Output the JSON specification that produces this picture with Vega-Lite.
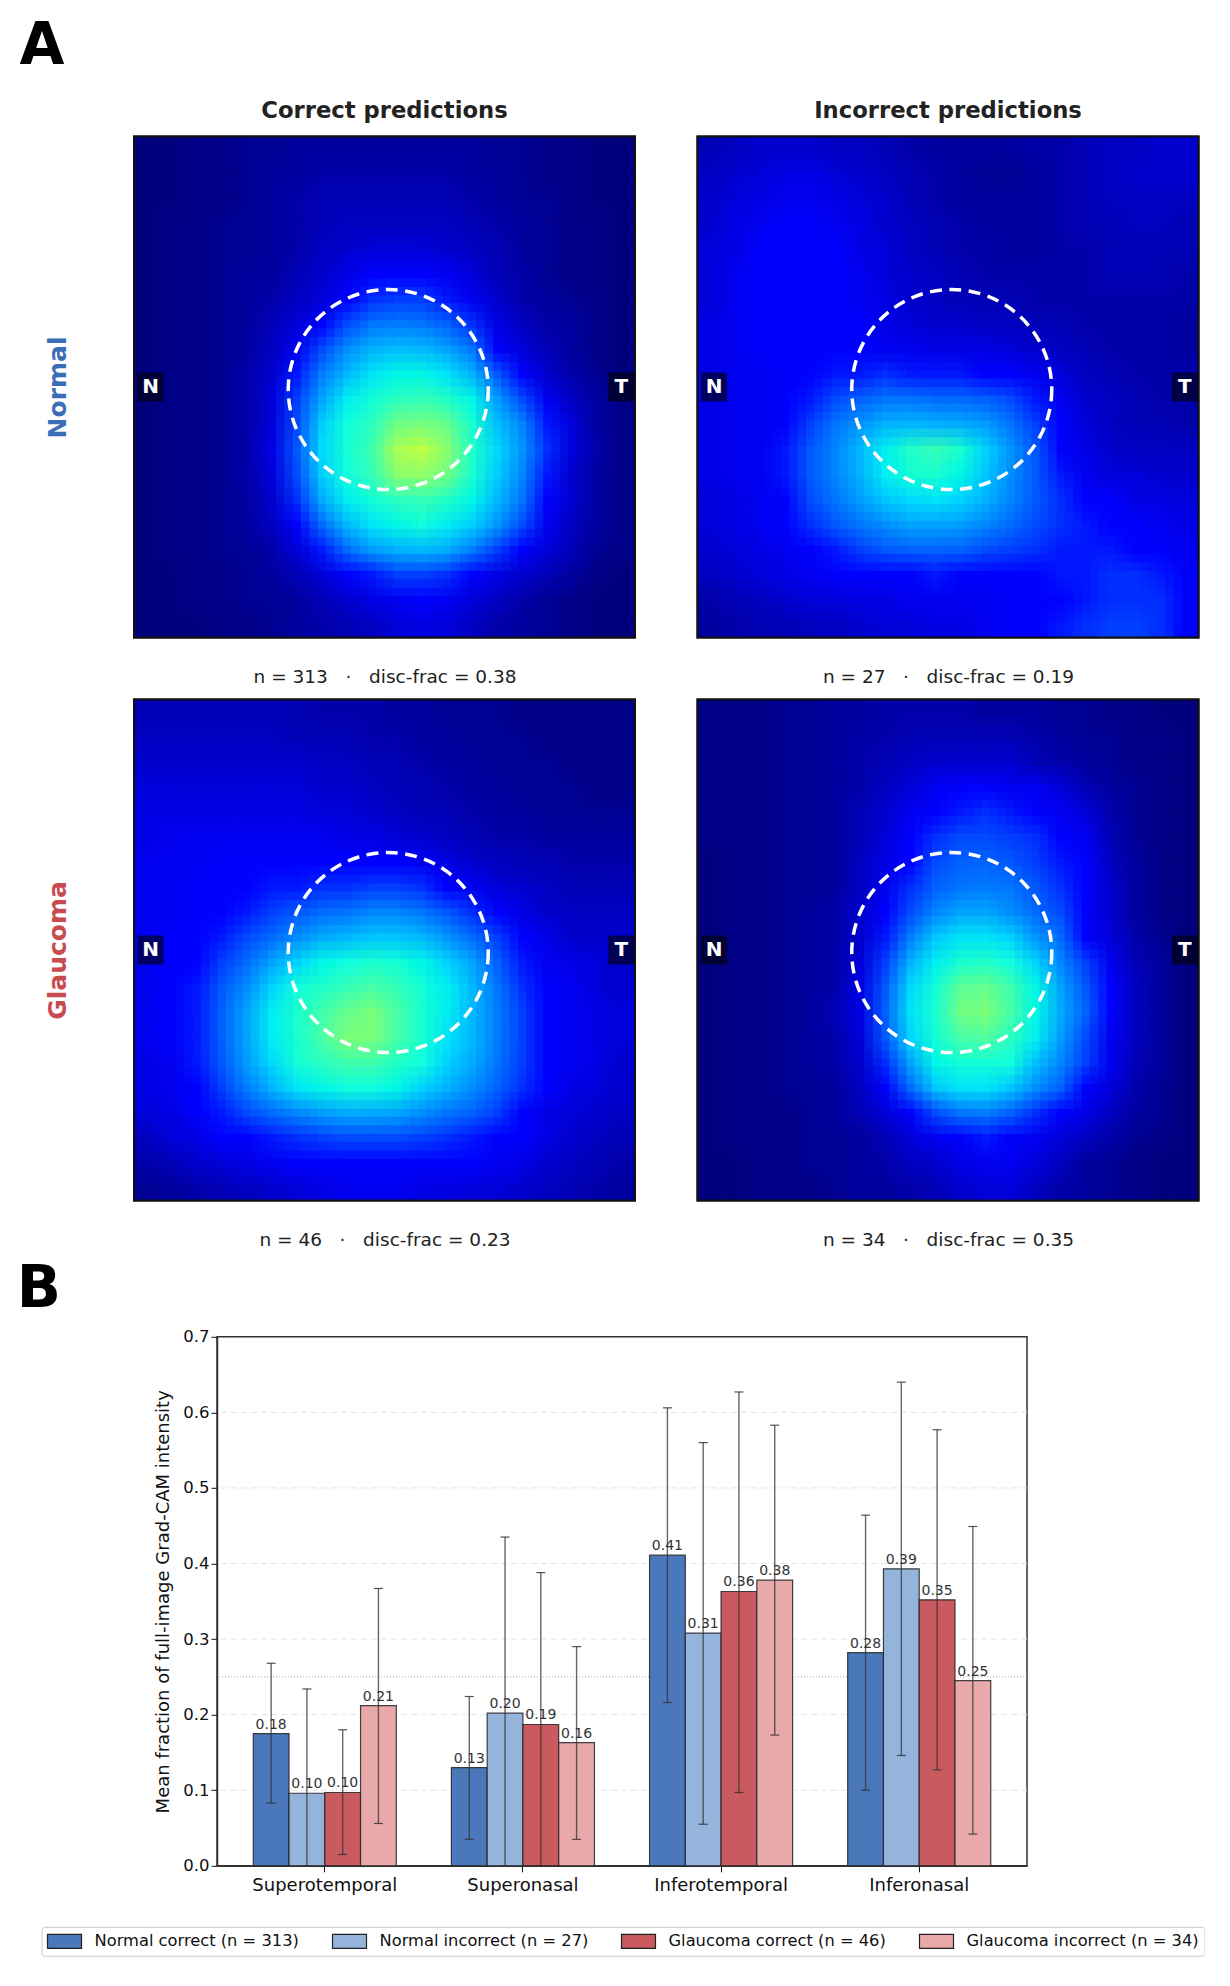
{
"$schema":"https://vega.github.io/schema/vega-lite/v6.json",
"background":"white",
"padding":{"left":16,"top":16.5,"right":0,"bottom":0},
"spacing":9.3,
"config":{"font":"DejaVu Sans","view":{"stroke":"#111","strokeWidth":2}},
"datasets":{
"p1":[
{"x":0,"y":0,"v":0},{"x":1,"y":0,"v":0},{"x":2,"y":0,"v":1},{"x":3,"y":0,"v":1},{"x":4,"y":0,"v":2},{"x":5,"y":0,"v":2},{"x":6,"y":0,"v":3},{"x":7,"y":0,"v":3},{"x":8,"y":0,"v":3},{"x":9,"y":0,"v":3},{"x":10,"y":0,"v":3},{"x":11,"y":0,"v":3},{"x":12,"y":0,"v":3},{"x":13,"y":0,"v":3},{"x":14,"y":0,"v":2},{"x":15,"y":0,"v":2},{"x":16,"y":0,"v":1},{"x":17,"y":0,"v":1},{"x":18,"y":0,"v":0},{"x":19,"y":0,"v":0},
{"x":0,"y":1,"v":0},{"x":1,"y":1,"v":0},{"x":2,"y":1,"v":1},{"x":3,"y":1,"v":1},{"x":4,"y":1,"v":2},{"x":5,"y":1,"v":3},{"x":6,"y":1,"v":3},{"x":7,"y":1,"v":4},{"x":8,"y":1,"v":4},{"x":9,"y":1,"v":4},{"x":10,"y":1,"v":4},{"x":11,"y":1,"v":4},{"x":12,"y":1,"v":4},{"x":13,"y":1,"v":3},{"x":14,"y":1,"v":3},{"x":15,"y":1,"v":2},{"x":16,"y":1,"v":1},{"x":17,"y":1,"v":1},{"x":18,"y":1,"v":0},{"x":19,"y":1,"v":0},
{"x":0,"y":2,"v":0},{"x":1,"y":2,"v":0},{"x":2,"y":2,"v":1},{"x":3,"y":2,"v":1},{"x":4,"y":2,"v":2},{"x":5,"y":2,"v":3},{"x":6,"y":2,"v":4},{"x":7,"y":2,"v":5},{"x":8,"y":2,"v":5},{"x":9,"y":2,"v":5},{"x":10,"y":2,"v":5},{"x":11,"y":2,"v":5},{"x":12,"y":2,"v":5},{"x":13,"y":2,"v":4},{"x":14,"y":2,"v":3},{"x":15,"y":2,"v":2},{"x":16,"y":2,"v":2},{"x":17,"y":2,"v":1},{"x":18,"y":2,"v":0},{"x":19,"y":2,"v":0},
{"x":0,"y":3,"v":0},{"x":1,"y":3,"v":1},{"x":2,"y":3,"v":1},{"x":3,"y":3,"v":2},{"x":4,"y":3,"v":2},{"x":5,"y":3,"v":3},{"x":6,"y":3,"v":4},{"x":7,"y":3,"v":5},{"x":8,"y":3,"v":6},{"x":9,"y":3,"v":6},{"x":10,"y":3,"v":6},{"x":11,"y":3,"v":6},{"x":12,"y":3,"v":6},{"x":13,"y":3,"v":5},{"x":14,"y":3,"v":4},{"x":15,"y":3,"v":3},{"x":16,"y":3,"v":2},{"x":17,"y":3,"v":1},{"x":18,"y":3,"v":1},{"x":19,"y":3,"v":0},
{"x":0,"y":4,"v":0},{"x":1,"y":4,"v":1},{"x":2,"y":4,"v":1},{"x":3,"y":4,"v":2},{"x":4,"y":4,"v":2},{"x":5,"y":4,"v":3},{"x":6,"y":4,"v":4},{"x":7,"y":4,"v":6},{"x":8,"y":4,"v":7},{"x":9,"y":4,"v":8},{"x":10,"y":4,"v":8},{"x":11,"y":4,"v":8},{"x":12,"y":4,"v":7},{"x":13,"y":4,"v":6},{"x":14,"y":4,"v":5},{"x":15,"y":4,"v":3},{"x":16,"y":4,"v":2},{"x":17,"y":4,"v":1},{"x":18,"y":4,"v":1},{"x":19,"y":4,"v":0},
{"x":0,"y":5,"v":0},{"x":1,"y":5,"v":1},{"x":2,"y":5,"v":1},{"x":3,"y":5,"v":2},{"x":4,"y":5,"v":3},{"x":5,"y":5,"v":3},{"x":6,"y":5,"v":5},{"x":7,"y":5,"v":7},{"x":8,"y":5,"v":9},{"x":9,"y":5,"v":11},{"x":10,"y":5,"v":12},{"x":11,"y":5,"v":12},{"x":12,"y":5,"v":10},{"x":13,"y":5,"v":8},{"x":14,"y":5,"v":5},{"x":15,"y":5,"v":4},{"x":16,"y":5,"v":2},{"x":17,"y":5,"v":1},{"x":18,"y":5,"v":1},{"x":19,"y":5,"v":0},
{"x":0,"y":6,"v":0},{"x":1,"y":6,"v":1},{"x":2,"y":6,"v":1},{"x":3,"y":6,"v":2},{"x":4,"y":6,"v":3},{"x":5,"y":6,"v":4},{"x":6,"y":6,"v":6},{"x":7,"y":6,"v":8},{"x":8,"y":6,"v":11},{"x":9,"y":6,"v":14},{"x":10,"y":6,"v":15},{"x":11,"y":6,"v":15},{"x":12,"y":6,"v":13},{"x":13,"y":6,"v":10},{"x":14,"y":6,"v":7},{"x":15,"y":6,"v":4},{"x":16,"y":6,"v":3},{"x":17,"y":6,"v":2},{"x":18,"y":6,"v":1},{"x":19,"y":6,"v":0},
{"x":0,"y":7,"v":0},{"x":1,"y":7,"v":1},{"x":2,"y":7,"v":1},{"x":3,"y":7,"v":2},{"x":4,"y":7,"v":3},{"x":5,"y":7,"v":5},{"x":6,"y":7,"v":8},{"x":7,"y":7,"v":12},{"x":8,"y":7,"v":16},{"x":9,"y":7,"v":20},{"x":10,"y":7,"v":21},{"x":11,"y":7,"v":20},{"x":12,"y":7,"v":18},{"x":13,"y":7,"v":14},{"x":14,"y":7,"v":9},{"x":15,"y":7,"v":6},{"x":16,"y":7,"v":4},{"x":17,"y":7,"v":3},{"x":18,"y":7,"v":1},{"x":19,"y":7,"v":0},
{"x":0,"y":8,"v":0},{"x":1,"y":8,"v":1},{"x":2,"y":8,"v":1},{"x":3,"y":8,"v":2},{"x":4,"y":8,"v":3},{"x":5,"y":8,"v":6},{"x":6,"y":8,"v":10},{"x":7,"y":8,"v":16},{"x":8,"y":8,"v":23},{"x":9,"y":8,"v":28},{"x":10,"y":8,"v":30},{"x":11,"y":8,"v":29},{"x":12,"y":8,"v":26},{"x":13,"y":8,"v":20},{"x":14,"y":8,"v":12},{"x":15,"y":8,"v":8},{"x":16,"y":8,"v":5},{"x":17,"y":8,"v":3},{"x":18,"y":8,"v":1},{"x":19,"y":8,"v":0},
{"x":0,"y":9,"v":0},{"x":1,"y":9,"v":1},{"x":2,"y":9,"v":1},{"x":3,"y":9,"v":2},{"x":4,"y":9,"v":4},{"x":5,"y":9,"v":7},{"x":6,"y":9,"v":13},{"x":7,"y":9,"v":21},{"x":8,"y":9,"v":29},{"x":9,"y":9,"v":35},{"x":10,"y":9,"v":37},{"x":11,"y":9,"v":37},{"x":12,"y":9,"v":35},{"x":13,"y":9,"v":28},{"x":14,"y":9,"v":17},{"x":15,"y":9,"v":11},{"x":16,"y":9,"v":7},{"x":17,"y":9,"v":4},{"x":18,"y":9,"v":2},{"x":19,"y":9,"v":0},
{"x":0,"y":10,"v":0},{"x":1,"y":10,"v":1},{"x":2,"y":10,"v":1},{"x":3,"y":10,"v":2},{"x":4,"y":10,"v":4},{"x":5,"y":10,"v":8},{"x":6,"y":10,"v":15},{"x":7,"y":10,"v":26},{"x":8,"y":10,"v":36},{"x":9,"y":10,"v":39},{"x":10,"y":10,"v":42},{"x":11,"y":10,"v":43},{"x":12,"y":10,"v":41},{"x":13,"y":10,"v":37},{"x":14,"y":10,"v":25},{"x":15,"y":10,"v":16},{"x":16,"y":10,"v":10},{"x":17,"y":10,"v":6},{"x":18,"y":10,"v":3},{"x":19,"y":10,"v":1},
{"x":0,"y":11,"v":0},{"x":1,"y":11,"v":1},{"x":2,"y":11,"v":1},{"x":3,"y":11,"v":2},{"x":4,"y":11,"v":4},{"x":5,"y":11,"v":8},{"x":6,"y":11,"v":16},{"x":7,"y":11,"v":32},{"x":8,"y":11,"v":38},{"x":9,"y":11,"v":42},{"x":10,"y":11,"v":49},{"x":11,"y":11,"v":50},{"x":12,"y":11,"v":48},{"x":13,"y":11,"v":40},{"x":14,"y":11,"v":30},{"x":15,"y":11,"v":22},{"x":16,"y":11,"v":13},{"x":17,"y":11,"v":8},{"x":18,"y":11,"v":3},{"x":19,"y":11,"v":1},
{"x":0,"y":12,"v":0},{"x":1,"y":12,"v":1},{"x":2,"y":12,"v":1},{"x":3,"y":12,"v":2},{"x":4,"y":12,"v":4},{"x":5,"y":12,"v":9},{"x":6,"y":12,"v":17},{"x":7,"y":12,"v":34},{"x":8,"y":12,"v":39},{"x":9,"y":12,"v":44},{"x":10,"y":12,"v":56},{"x":11,"y":12,"v":58},{"x":12,"y":12,"v":52},{"x":13,"y":12,"v":41},{"x":14,"y":12,"v":34},{"x":15,"y":12,"v":24},{"x":16,"y":12,"v":14},{"x":17,"y":12,"v":8},{"x":18,"y":12,"v":4},{"x":19,"y":12,"v":1},
{"x":0,"y":13,"v":0},{"x":1,"y":13,"v":1},{"x":2,"y":13,"v":1},{"x":3,"y":13,"v":2},{"x":4,"y":13,"v":4},{"x":5,"y":13,"v":8},{"x":6,"y":13,"v":16},{"x":7,"y":13,"v":32},{"x":8,"y":13,"v":38},{"x":9,"y":13,"v":43},{"x":10,"y":13,"v":52},{"x":11,"y":13,"v":53},{"x":12,"y":13,"v":49},{"x":13,"y":13,"v":40},{"x":14,"y":13,"v":32},{"x":15,"y":13,"v":22},{"x":16,"y":13,"v":13},{"x":17,"y":13,"v":7},{"x":18,"y":13,"v":3},{"x":19,"y":13,"v":1},
{"x":0,"y":14,"v":0},{"x":1,"y":14,"v":1},{"x":2,"y":14,"v":1},{"x":3,"y":14,"v":2},{"x":4,"y":14,"v":3},{"x":5,"y":14,"v":7},{"x":6,"y":14,"v":14},{"x":7,"y":14,"v":27},{"x":8,"y":14,"v":36},{"x":9,"y":14,"v":39},{"x":10,"y":14,"v":42},{"x":11,"y":14,"v":43},{"x":12,"y":14,"v":41},{"x":13,"y":14,"v":37},{"x":14,"y":14,"v":29},{"x":15,"y":14,"v":20},{"x":16,"y":14,"v":12},{"x":17,"y":14,"v":7},{"x":18,"y":14,"v":3},{"x":19,"y":14,"v":1},
{"x":0,"y":15,"v":0},{"x":1,"y":15,"v":1},{"x":2,"y":15,"v":1},{"x":3,"y":15,"v":2},{"x":4,"y":15,"v":3},{"x":5,"y":15,"v":6},{"x":6,"y":15,"v":11},{"x":7,"y":15,"v":19},{"x":8,"y":15,"v":29},{"x":9,"y":15,"v":35},{"x":10,"y":15,"v":37},{"x":11,"y":15,"v":38},{"x":12,"y":15,"v":36},{"x":13,"y":15,"v":32},{"x":14,"y":15,"v":24},{"x":15,"y":15,"v":16},{"x":16,"y":15,"v":10},{"x":17,"y":15,"v":6},{"x":18,"y":15,"v":3},{"x":19,"y":15,"v":1},
{"x":0,"y":16,"v":0},{"x":1,"y":16,"v":1},{"x":2,"y":16,"v":1},{"x":3,"y":16,"v":2},{"x":4,"y":16,"v":2},{"x":5,"y":16,"v":4},{"x":6,"y":16,"v":8},{"x":7,"y":16,"v":13},{"x":8,"y":16,"v":19},{"x":9,"y":16,"v":25},{"x":10,"y":16,"v":28},{"x":11,"y":16,"v":29},{"x":12,"y":16,"v":27},{"x":13,"y":16,"v":21},{"x":14,"y":16,"v":15},{"x":15,"y":16,"v":11},{"x":16,"y":16,"v":8},{"x":17,"y":16,"v":5},{"x":18,"y":16,"v":2},{"x":19,"y":16,"v":1},
{"x":0,"y":17,"v":0},{"x":1,"y":17,"v":0},{"x":2,"y":17,"v":1},{"x":3,"y":17,"v":1},{"x":4,"y":17,"v":2},{"x":5,"y":17,"v":3},{"x":6,"y":17,"v":5},{"x":7,"y":17,"v":8},{"x":8,"y":17,"v":11},{"x":9,"y":17,"v":13},{"x":10,"y":17,"v":15},{"x":11,"y":17,"v":15},{"x":12,"y":17,"v":14},{"x":13,"y":17,"v":11},{"x":14,"y":17,"v":9},{"x":15,"y":17,"v":7},{"x":16,"y":17,"v":5},{"x":17,"y":17,"v":3},{"x":18,"y":17,"v":1},{"x":19,"y":17,"v":0},
{"x":0,"y":18,"v":0},{"x":1,"y":18,"v":0},{"x":2,"y":18,"v":1},{"x":3,"y":18,"v":1},{"x":4,"y":18,"v":2},{"x":5,"y":18,"v":2},{"x":6,"y":18,"v":3},{"x":7,"y":18,"v":5},{"x":8,"y":18,"v":7},{"x":9,"y":18,"v":9},{"x":10,"y":18,"v":10},{"x":11,"y":18,"v":11},{"x":12,"y":18,"v":10},{"x":13,"y":18,"v":8},{"x":14,"y":18,"v":6},{"x":15,"y":18,"v":4},{"x":16,"y":18,"v":2},{"x":17,"y":18,"v":1},{"x":18,"y":18,"v":0},{"x":19,"y":18,"v":0},
{"x":0,"y":19,"v":0},{"x":1,"y":19,"v":0},{"x":2,"y":19,"v":0},{"x":3,"y":19,"v":1},{"x":4,"y":19,"v":1},{"x":5,"y":19,"v":2},{"x":6,"y":19,"v":3},{"x":7,"y":19,"v":4},{"x":8,"y":19,"v":5},{"x":9,"y":19,"v":6},{"x":10,"y":19,"v":8},{"x":11,"y":19,"v":9},{"x":12,"y":19,"v":8},{"x":13,"y":19,"v":6},{"x":14,"y":19,"v":4},{"x":15,"y":19,"v":3},{"x":16,"y":19,"v":2},{"x":17,"y":19,"v":1},{"x":18,"y":19,"v":0},{"x":19,"y":19,"v":0}
],
"p2":[
{"x":0,"y":0,"v":5},{"x":1,"y":0,"v":6},{"x":2,"y":0,"v":7},{"x":3,"y":0,"v":7},{"x":4,"y":0,"v":7},{"x":5,"y":0,"v":6},{"x":6,"y":0,"v":6},{"x":7,"y":0,"v":5},{"x":8,"y":0,"v":4},{"x":9,"y":0,"v":3},{"x":10,"y":0,"v":3},{"x":11,"y":0,"v":3},{"x":12,"y":0,"v":3},{"x":13,"y":0,"v":4},{"x":14,"y":0,"v":4},{"x":15,"y":0,"v":5},{"x":16,"y":0,"v":6},{"x":17,"y":0,"v":6},{"x":18,"y":0,"v":7},{"x":19,"y":0,"v":7},
{"x":0,"y":1,"v":6},{"x":1,"y":1,"v":7},{"x":2,"y":1,"v":8},{"x":3,"y":1,"v":9},{"x":4,"y":1,"v":9},{"x":5,"y":1,"v":8},{"x":6,"y":1,"v":7},{"x":7,"y":1,"v":6},{"x":8,"y":1,"v":5},{"x":9,"y":1,"v":4},{"x":10,"y":1,"v":3},{"x":11,"y":1,"v":2},{"x":12,"y":1,"v":2},{"x":13,"y":1,"v":3},{"x":14,"y":1,"v":4},{"x":15,"y":1,"v":5},{"x":16,"y":1,"v":6},{"x":17,"y":1,"v":7},{"x":18,"y":1,"v":7},{"x":19,"y":1,"v":7},
{"x":0,"y":2,"v":7},{"x":1,"y":2,"v":8},{"x":2,"y":2,"v":9},{"x":3,"y":2,"v":10},{"x":4,"y":2,"v":10},{"x":5,"y":2,"v":9},{"x":6,"y":2,"v":8},{"x":7,"y":2,"v":7},{"x":8,"y":2,"v":5},{"x":9,"y":2,"v":4},{"x":10,"y":2,"v":3},{"x":11,"y":2,"v":3},{"x":12,"y":2,"v":3},{"x":13,"y":2,"v":3},{"x":14,"y":2,"v":4},{"x":15,"y":2,"v":5},{"x":16,"y":2,"v":6},{"x":17,"y":2,"v":6},{"x":18,"y":2,"v":6},{"x":19,"y":2,"v":6},
{"x":0,"y":3,"v":7},{"x":1,"y":3,"v":9},{"x":2,"y":3,"v":10},{"x":3,"y":3,"v":11},{"x":4,"y":3,"v":11},{"x":5,"y":3,"v":10},{"x":6,"y":3,"v":9},{"x":7,"y":3,"v":7},{"x":8,"y":3,"v":6},{"x":9,"y":3,"v":5},{"x":10,"y":3,"v":4},{"x":11,"y":3,"v":3},{"x":12,"y":3,"v":3},{"x":13,"y":3,"v":3},{"x":14,"y":3,"v":4},{"x":15,"y":3,"v":5},{"x":16,"y":3,"v":5},{"x":17,"y":3,"v":6},{"x":18,"y":3,"v":6},{"x":19,"y":3,"v":5},
{"x":0,"y":4,"v":8},{"x":1,"y":4,"v":9},{"x":2,"y":4,"v":11},{"x":3,"y":4,"v":11},{"x":4,"y":4,"v":12},{"x":5,"y":4,"v":11},{"x":6,"y":4,"v":9},{"x":7,"y":4,"v":8},{"x":8,"y":4,"v":6},{"x":9,"y":4,"v":5},{"x":10,"y":4,"v":4},{"x":11,"y":4,"v":4},{"x":12,"y":4,"v":3},{"x":13,"y":4,"v":3},{"x":14,"y":4,"v":4},{"x":15,"y":4,"v":4},{"x":16,"y":4,"v":5},{"x":17,"y":4,"v":5},{"x":18,"y":4,"v":5},{"x":19,"y":4,"v":5},
{"x":0,"y":5,"v":8},{"x":1,"y":5,"v":10},{"x":2,"y":5,"v":11},{"x":3,"y":5,"v":12},{"x":4,"y":5,"v":12},{"x":5,"y":5,"v":11},{"x":6,"y":5,"v":10},{"x":7,"y":5,"v":8},{"x":8,"y":5,"v":7},{"x":9,"y":5,"v":6},{"x":10,"y":5,"v":5},{"x":11,"y":5,"v":4},{"x":12,"y":5,"v":4},{"x":13,"y":5,"v":4},{"x":14,"y":5,"v":4},{"x":15,"y":5,"v":4},{"x":16,"y":5,"v":5},{"x":17,"y":5,"v":5},{"x":18,"y":5,"v":5},{"x":19,"y":5,"v":4},
{"x":0,"y":6,"v":8},{"x":1,"y":6,"v":10},{"x":2,"y":6,"v":11},{"x":3,"y":6,"v":12},{"x":4,"y":6,"v":12},{"x":5,"y":6,"v":11},{"x":6,"y":6,"v":10},{"x":7,"y":6,"v":9},{"x":8,"y":6,"v":7},{"x":9,"y":6,"v":6},{"x":10,"y":6,"v":5},{"x":11,"y":6,"v":5},{"x":12,"y":6,"v":5},{"x":13,"y":6,"v":4},{"x":14,"y":6,"v":4},{"x":15,"y":6,"v":4},{"x":16,"y":6,"v":4},{"x":17,"y":6,"v":4},{"x":18,"y":6,"v":4},{"x":19,"y":6,"v":4},
{"x":0,"y":7,"v":9},{"x":1,"y":7,"v":10},{"x":2,"y":7,"v":11},{"x":3,"y":7,"v":11},{"x":4,"y":7,"v":12},{"x":5,"y":7,"v":12},{"x":6,"y":7,"v":11},{"x":7,"y":7,"v":9},{"x":8,"y":7,"v":8},{"x":9,"y":7,"v":7},{"x":10,"y":7,"v":7},{"x":11,"y":7,"v":6},{"x":12,"y":7,"v":6},{"x":13,"y":7,"v":5},{"x":14,"y":7,"v":5},{"x":15,"y":7,"v":4},{"x":16,"y":7,"v":4},{"x":17,"y":7,"v":4},{"x":18,"y":7,"v":4},{"x":19,"y":7,"v":3},
{"x":0,"y":8,"v":9},{"x":1,"y":8,"v":10},{"x":2,"y":8,"v":11},{"x":3,"y":8,"v":11},{"x":4,"y":8,"v":12},{"x":5,"y":8,"v":12},{"x":6,"y":8,"v":11},{"x":7,"y":8,"v":10},{"x":8,"y":8,"v":10},{"x":9,"y":8,"v":9},{"x":10,"y":8,"v":9},{"x":11,"y":8,"v":9},{"x":12,"y":8,"v":8},{"x":13,"y":8,"v":7},{"x":14,"y":8,"v":6},{"x":15,"y":8,"v":5},{"x":16,"y":8,"v":4},{"x":17,"y":8,"v":4},{"x":18,"y":8,"v":4},{"x":19,"y":8,"v":3},
{"x":0,"y":9,"v":9},{"x":1,"y":9,"v":10},{"x":2,"y":9,"v":10},{"x":3,"y":9,"v":11},{"x":4,"y":9,"v":12},{"x":5,"y":9,"v":13},{"x":6,"y":9,"v":13},{"x":7,"y":9,"v":14},{"x":8,"y":9,"v":13},{"x":9,"y":9,"v":13},{"x":10,"y":9,"v":13},{"x":11,"y":9,"v":12},{"x":12,"y":9,"v":12},{"x":13,"y":9,"v":10},{"x":14,"y":9,"v":8},{"x":15,"y":9,"v":6},{"x":16,"y":9,"v":5},{"x":17,"y":9,"v":4},{"x":18,"y":9,"v":4},{"x":19,"y":9,"v":4},
{"x":0,"y":10,"v":9},{"x":1,"y":10,"v":10},{"x":2,"y":10,"v":10},{"x":3,"y":10,"v":11},{"x":4,"y":10,"v":13},{"x":5,"y":10,"v":16},{"x":6,"y":10,"v":18},{"x":7,"y":10,"v":20},{"x":8,"y":10,"v":20},{"x":9,"y":10,"v":19},{"x":10,"y":10,"v":19},{"x":11,"y":10,"v":18},{"x":12,"y":10,"v":16},{"x":13,"y":10,"v":13},{"x":14,"y":10,"v":10},{"x":15,"y":10,"v":7},{"x":16,"y":10,"v":6},{"x":17,"y":10,"v":5},{"x":18,"y":10,"v":4},{"x":19,"y":10,"v":4},
{"x":0,"y":11,"v":9},{"x":1,"y":11,"v":10},{"x":2,"y":11,"v":10},{"x":3,"y":11,"v":12},{"x":4,"y":11,"v":15},{"x":5,"y":11,"v":20},{"x":6,"y":11,"v":24},{"x":7,"y":11,"v":28},{"x":8,"y":11,"v":29},{"x":9,"y":11,"v":28},{"x":10,"y":11,"v":27},{"x":11,"y":11,"v":25},{"x":12,"y":11,"v":20},{"x":13,"y":11,"v":15},{"x":14,"y":11,"v":11},{"x":15,"y":11,"v":8},{"x":16,"y":11,"v":6},{"x":17,"y":11,"v":5},{"x":18,"y":11,"v":5},{"x":19,"y":11,"v":4},
{"x":0,"y":12,"v":9},{"x":1,"y":12,"v":10},{"x":2,"y":12,"v":10},{"x":3,"y":12,"v":13},{"x":4,"y":12,"v":17},{"x":5,"y":12,"v":22},{"x":6,"y":12,"v":29},{"x":7,"y":12,"v":36},{"x":8,"y":12,"v":41},{"x":9,"y":12,"v":43},{"x":10,"y":12,"v":40},{"x":11,"y":12,"v":33},{"x":12,"y":12,"v":24},{"x":13,"y":12,"v":17},{"x":14,"y":12,"v":11},{"x":15,"y":12,"v":9},{"x":16,"y":12,"v":7},{"x":17,"y":12,"v":6},{"x":18,"y":12,"v":6},{"x":19,"y":12,"v":6},
{"x":0,"y":13,"v":9},{"x":1,"y":13,"v":10},{"x":2,"y":13,"v":10},{"x":3,"y":13,"v":13},{"x":4,"y":13,"v":17},{"x":5,"y":13,"v":22},{"x":6,"y":13,"v":28},{"x":7,"y":13,"v":36},{"x":8,"y":13,"v":39},{"x":9,"y":13,"v":40},{"x":10,"y":13,"v":37},{"x":11,"y":13,"v":31},{"x":12,"y":13,"v":23},{"x":13,"y":13,"v":17},{"x":14,"y":13,"v":13},{"x":15,"y":13,"v":10},{"x":16,"y":13,"v":8},{"x":17,"y":13,"v":8},{"x":18,"y":13,"v":7},{"x":19,"y":13,"v":7},
{"x":0,"y":14,"v":8},{"x":1,"y":14,"v":9},{"x":2,"y":14,"v":10},{"x":3,"y":14,"v":12},{"x":4,"y":14,"v":16},{"x":5,"y":14,"v":20},{"x":6,"y":14,"v":25},{"x":7,"y":14,"v":31},{"x":8,"y":14,"v":34},{"x":9,"y":14,"v":35},{"x":10,"y":14,"v":33},{"x":11,"y":14,"v":28},{"x":12,"y":14,"v":22},{"x":13,"y":14,"v":17},{"x":14,"y":14,"v":14},{"x":15,"y":14,"v":12},{"x":16,"y":14,"v":11},{"x":17,"y":14,"v":9},{"x":18,"y":14,"v":9},{"x":19,"y":14,"v":8},
{"x":0,"y":15,"v":8},{"x":1,"y":15,"v":9},{"x":2,"y":15,"v":10},{"x":3,"y":15,"v":11},{"x":4,"y":15,"v":14},{"x":5,"y":15,"v":17},{"x":6,"y":15,"v":20},{"x":7,"y":15,"v":23},{"x":8,"y":15,"v":26},{"x":9,"y":15,"v":26},{"x":10,"y":15,"v":25},{"x":11,"y":15,"v":22},{"x":12,"y":15,"v":19},{"x":13,"y":15,"v":16},{"x":14,"y":15,"v":14},{"x":15,"y":15,"v":13},{"x":16,"y":15,"v":12},{"x":17,"y":15,"v":11},{"x":18,"y":15,"v":10},{"x":19,"y":15,"v":9},
{"x":0,"y":16,"v":7},{"x":1,"y":16,"v":8},{"x":2,"y":16,"v":9},{"x":3,"y":16,"v":10},{"x":4,"y":16,"v":12},{"x":5,"y":16,"v":13},{"x":6,"y":16,"v":15},{"x":7,"y":16,"v":17},{"x":8,"y":16,"v":18},{"x":9,"y":16,"v":18},{"x":10,"y":16,"v":18},{"x":11,"y":16,"v":16},{"x":12,"y":16,"v":15},{"x":13,"y":16,"v":14},{"x":14,"y":16,"v":13},{"x":15,"y":16,"v":13},{"x":16,"y":16,"v":13},{"x":17,"y":16,"v":12},{"x":18,"y":16,"v":11},{"x":19,"y":16,"v":10},
{"x":0,"y":17,"v":6},{"x":1,"y":17,"v":7},{"x":2,"y":17,"v":8},{"x":3,"y":17,"v":9},{"x":4,"y":17,"v":10},{"x":5,"y":17,"v":11},{"x":6,"y":17,"v":11},{"x":7,"y":17,"v":12},{"x":8,"y":17,"v":12},{"x":9,"y":17,"v":13},{"x":10,"y":17,"v":12},{"x":11,"y":17,"v":12},{"x":12,"y":17,"v":12},{"x":13,"y":17,"v":12},{"x":14,"y":17,"v":13},{"x":15,"y":17,"v":13},{"x":16,"y":17,"v":14},{"x":17,"y":17,"v":14},{"x":18,"y":17,"v":13},{"x":19,"y":17,"v":11},
{"x":0,"y":18,"v":4},{"x":1,"y":18,"v":5},{"x":2,"y":18,"v":6},{"x":3,"y":18,"v":7},{"x":4,"y":18,"v":8},{"x":5,"y":18,"v":8},{"x":6,"y":18,"v":9},{"x":7,"y":18,"v":9},{"x":8,"y":18,"v":10},{"x":9,"y":18,"v":10},{"x":10,"y":18,"v":10},{"x":11,"y":18,"v":10},{"x":12,"y":18,"v":11},{"x":13,"y":18,"v":12},{"x":14,"y":18,"v":12},{"x":15,"y":18,"v":13},{"x":16,"y":18,"v":14},{"x":17,"y":18,"v":14},{"x":18,"y":18,"v":14},{"x":19,"y":18,"v":12},
{"x":0,"y":19,"v":3},{"x":1,"y":19,"v":4},{"x":2,"y":19,"v":5},{"x":3,"y":19,"v":5},{"x":4,"y":19,"v":6},{"x":5,"y":19,"v":6},{"x":6,"y":19,"v":7},{"x":7,"y":19,"v":8},{"x":8,"y":19,"v":8},{"x":9,"y":19,"v":9},{"x":10,"y":19,"v":9},{"x":11,"y":19,"v":10},{"x":12,"y":19,"v":11},{"x":13,"y":19,"v":12},{"x":14,"y":19,"v":13},{"x":15,"y":19,"v":14},{"x":16,"y":19,"v":15},{"x":17,"y":19,"v":15},{"x":18,"y":19,"v":14},{"x":19,"y":19,"v":12}
],
"p3":[
{"x":0,"y":0,"v":5},{"x":1,"y":0,"v":5},{"x":2,"y":0,"v":5},{"x":3,"y":0,"v":5},{"x":4,"y":0,"v":5},{"x":5,"y":0,"v":5},{"x":6,"y":0,"v":5},{"x":7,"y":0,"v":4},{"x":8,"y":0,"v":4},{"x":9,"y":0,"v":4},{"x":10,"y":0,"v":3},{"x":11,"y":0,"v":3},{"x":12,"y":0,"v":2},{"x":13,"y":0,"v":2},{"x":14,"y":0,"v":2},{"x":15,"y":0,"v":1},{"x":16,"y":0,"v":1},{"x":17,"y":0,"v":1},{"x":18,"y":0,"v":1},{"x":19,"y":0,"v":1},
{"x":0,"y":1,"v":6},{"x":1,"y":1,"v":6},{"x":2,"y":1,"v":6},{"x":3,"y":1,"v":6},{"x":4,"y":1,"v":6},{"x":5,"y":1,"v":6},{"x":6,"y":1,"v":5},{"x":7,"y":1,"v":5},{"x":8,"y":1,"v":5},{"x":9,"y":1,"v":4},{"x":10,"y":1,"v":4},{"x":11,"y":1,"v":3},{"x":12,"y":1,"v":3},{"x":13,"y":1,"v":2},{"x":14,"y":1,"v":2},{"x":15,"y":1,"v":2},{"x":16,"y":1,"v":1},{"x":17,"y":1,"v":1},{"x":18,"y":1,"v":1},{"x":19,"y":1,"v":1},
{"x":0,"y":2,"v":7},{"x":1,"y":2,"v":7},{"x":2,"y":2,"v":7},{"x":3,"y":2,"v":7},{"x":4,"y":2,"v":7},{"x":5,"y":2,"v":7},{"x":6,"y":2,"v":7},{"x":7,"y":2,"v":6},{"x":8,"y":2,"v":6},{"x":9,"y":2,"v":5},{"x":10,"y":2,"v":5},{"x":11,"y":2,"v":4},{"x":12,"y":2,"v":3},{"x":13,"y":2,"v":3},{"x":14,"y":2,"v":2},{"x":15,"y":2,"v":2},{"x":16,"y":2,"v":2},{"x":17,"y":2,"v":1},{"x":18,"y":2,"v":1},{"x":19,"y":2,"v":1},
{"x":0,"y":3,"v":8},{"x":1,"y":3,"v":8},{"x":2,"y":3,"v":8},{"x":3,"y":3,"v":8},{"x":4,"y":3,"v":8},{"x":5,"y":3,"v":8},{"x":6,"y":3,"v":8},{"x":7,"y":3,"v":7},{"x":8,"y":3,"v":7},{"x":9,"y":3,"v":6},{"x":10,"y":3,"v":5},{"x":11,"y":3,"v":5},{"x":12,"y":3,"v":4},{"x":13,"y":3,"v":3},{"x":14,"y":3,"v":3},{"x":15,"y":3,"v":2},{"x":16,"y":3,"v":2},{"x":17,"y":3,"v":2},{"x":18,"y":3,"v":1},{"x":19,"y":3,"v":1},
{"x":0,"y":4,"v":9},{"x":1,"y":4,"v":9},{"x":2,"y":4,"v":9},{"x":3,"y":4,"v":9},{"x":4,"y":4,"v":9},{"x":5,"y":4,"v":9},{"x":6,"y":4,"v":9},{"x":7,"y":4,"v":8},{"x":8,"y":4,"v":8},{"x":9,"y":4,"v":7},{"x":10,"y":4,"v":6},{"x":11,"y":4,"v":5},{"x":12,"y":4,"v":5},{"x":13,"y":4,"v":4},{"x":14,"y":4,"v":3},{"x":15,"y":4,"v":3},{"x":16,"y":4,"v":2},{"x":17,"y":4,"v":2},{"x":18,"y":4,"v":2},{"x":19,"y":4,"v":2},
{"x":0,"y":5,"v":9},{"x":1,"y":5,"v":10},{"x":2,"y":5,"v":10},{"x":3,"y":5,"v":10},{"x":4,"y":5,"v":10},{"x":5,"y":5,"v":10},{"x":6,"y":5,"v":10},{"x":7,"y":5,"v":10},{"x":8,"y":5,"v":9},{"x":9,"y":5,"v":9},{"x":10,"y":5,"v":8},{"x":11,"y":5,"v":7},{"x":12,"y":5,"v":6},{"x":13,"y":5,"v":5},{"x":14,"y":5,"v":4},{"x":15,"y":5,"v":4},{"x":16,"y":5,"v":3},{"x":17,"y":5,"v":3},{"x":18,"y":5,"v":3},{"x":19,"y":5,"v":3},
{"x":0,"y":6,"v":10},{"x":1,"y":6,"v":10},{"x":2,"y":6,"v":10},{"x":3,"y":6,"v":11},{"x":4,"y":6,"v":11},{"x":5,"y":6,"v":11},{"x":6,"y":6,"v":11},{"x":7,"y":6,"v":11},{"x":8,"y":6,"v":11},{"x":9,"y":6,"v":11},{"x":10,"y":6,"v":11},{"x":11,"y":6,"v":10},{"x":12,"y":6,"v":9},{"x":13,"y":6,"v":7},{"x":14,"y":6,"v":6},{"x":15,"y":6,"v":5},{"x":16,"y":6,"v":5},{"x":17,"y":6,"v":4},{"x":18,"y":6,"v":4},{"x":19,"y":6,"v":4},
{"x":0,"y":7,"v":10},{"x":1,"y":7,"v":10},{"x":2,"y":7,"v":11},{"x":3,"y":7,"v":12},{"x":4,"y":7,"v":12},{"x":5,"y":7,"v":13},{"x":6,"y":7,"v":13},{"x":7,"y":7,"v":14},{"x":8,"y":7,"v":14},{"x":9,"y":7,"v":15},{"x":10,"y":7,"v":15},{"x":11,"y":7,"v":14},{"x":12,"y":7,"v":12},{"x":13,"y":7,"v":10},{"x":14,"y":7,"v":8},{"x":15,"y":7,"v":7},{"x":16,"y":7,"v":6},{"x":17,"y":7,"v":5},{"x":18,"y":7,"v":5},{"x":19,"y":7,"v":5},
{"x":0,"y":8,"v":10},{"x":1,"y":8,"v":10},{"x":2,"y":8,"v":11},{"x":3,"y":8,"v":12},{"x":4,"y":8,"v":13},{"x":5,"y":8,"v":15},{"x":6,"y":8,"v":17},{"x":7,"y":8,"v":19},{"x":8,"y":8,"v":20},{"x":9,"y":8,"v":22},{"x":10,"y":8,"v":22},{"x":11,"y":8,"v":20},{"x":12,"y":8,"v":17},{"x":13,"y":8,"v":14},{"x":14,"y":8,"v":11},{"x":15,"y":8,"v":9},{"x":16,"y":8,"v":7},{"x":17,"y":8,"v":6},{"x":18,"y":8,"v":6},{"x":19,"y":8,"v":6},
{"x":0,"y":9,"v":10},{"x":1,"y":9,"v":11},{"x":2,"y":9,"v":11},{"x":3,"y":9,"v":13},{"x":4,"y":9,"v":16},{"x":5,"y":9,"v":19},{"x":6,"y":9,"v":23},{"x":7,"y":9,"v":27},{"x":8,"y":9,"v":29},{"x":9,"y":9,"v":31},{"x":10,"y":9,"v":31},{"x":11,"y":9,"v":29},{"x":12,"y":9,"v":24},{"x":13,"y":9,"v":19},{"x":14,"y":9,"v":15},{"x":15,"y":9,"v":11},{"x":16,"y":9,"v":9},{"x":17,"y":9,"v":7},{"x":18,"y":9,"v":7},{"x":19,"y":9,"v":7},
{"x":0,"y":10,"v":10},{"x":1,"y":10,"v":11},{"x":2,"y":10,"v":12},{"x":3,"y":10,"v":15},{"x":4,"y":10,"v":19},{"x":5,"y":10,"v":26},{"x":6,"y":10,"v":33},{"x":7,"y":10,"v":37},{"x":8,"y":10,"v":38},{"x":9,"y":10,"v":40},{"x":10,"y":10,"v":39},{"x":11,"y":10,"v":37},{"x":12,"y":10,"v":33},{"x":13,"y":10,"v":26},{"x":14,"y":10,"v":18},{"x":15,"y":10,"v":13},{"x":16,"y":10,"v":10},{"x":17,"y":10,"v":9},{"x":18,"y":10,"v":8},{"x":19,"y":10,"v":7},
{"x":0,"y":11,"v":10},{"x":1,"y":11,"v":11},{"x":2,"y":11,"v":13},{"x":3,"y":11,"v":17},{"x":4,"y":11,"v":23},{"x":5,"y":11,"v":33},{"x":6,"y":11,"v":38},{"x":7,"y":11,"v":41},{"x":8,"y":11,"v":43},{"x":9,"y":11,"v":45},{"x":10,"y":11,"v":43},{"x":11,"y":11,"v":39},{"x":12,"y":11,"v":36},{"x":13,"y":11,"v":29},{"x":14,"y":11,"v":20},{"x":15,"y":11,"v":14},{"x":16,"y":11,"v":11},{"x":17,"y":11,"v":10},{"x":18,"y":11,"v":8},{"x":19,"y":11,"v":7},
{"x":0,"y":12,"v":10},{"x":1,"y":12,"v":11},{"x":2,"y":12,"v":13},{"x":3,"y":12,"v":18},{"x":4,"y":12,"v":26},{"x":5,"y":12,"v":36},{"x":6,"y":12,"v":40},{"x":7,"y":12,"v":44},{"x":8,"y":12,"v":48},{"x":9,"y":12,"v":50},{"x":10,"y":12,"v":45},{"x":11,"y":12,"v":40},{"x":12,"y":12,"v":36},{"x":13,"y":12,"v":29},{"x":14,"y":12,"v":21},{"x":15,"y":12,"v":15},{"x":16,"y":12,"v":12},{"x":17,"y":12,"v":10},{"x":18,"y":12,"v":9},{"x":19,"y":12,"v":8},
{"x":0,"y":13,"v":10},{"x":1,"y":13,"v":11},{"x":2,"y":13,"v":13},{"x":3,"y":13,"v":18},{"x":4,"y":13,"v":26},{"x":5,"y":13,"v":36},{"x":6,"y":13,"v":40},{"x":7,"y":13,"v":45},{"x":8,"y":13,"v":50},{"x":9,"y":13,"v":50},{"x":10,"y":13,"v":45},{"x":11,"y":13,"v":40},{"x":12,"y":13,"v":35},{"x":13,"y":13,"v":29},{"x":14,"y":13,"v":21},{"x":15,"y":13,"v":15},{"x":16,"y":13,"v":12},{"x":17,"y":13,"v":10},{"x":18,"y":13,"v":9},{"x":19,"y":13,"v":8},
{"x":0,"y":14,"v":9},{"x":1,"y":14,"v":10},{"x":2,"y":14,"v":13},{"x":3,"y":14,"v":17},{"x":4,"y":14,"v":25},{"x":5,"y":14,"v":34},{"x":6,"y":14,"v":39},{"x":7,"y":14,"v":42},{"x":8,"y":14,"v":44},{"x":9,"y":14,"v":44},{"x":10,"y":14,"v":41},{"x":11,"y":14,"v":38},{"x":12,"y":14,"v":33},{"x":13,"y":14,"v":27},{"x":14,"y":14,"v":20},{"x":15,"y":14,"v":15},{"x":16,"y":14,"v":12},{"x":17,"y":14,"v":10},{"x":18,"y":14,"v":9},{"x":19,"y":14,"v":7},
{"x":0,"y":15,"v":9},{"x":1,"y":15,"v":10},{"x":2,"y":15,"v":12},{"x":3,"y":15,"v":15},{"x":4,"y":15,"v":21},{"x":5,"y":15,"v":28},{"x":6,"y":15,"v":35},{"x":7,"y":15,"v":37},{"x":8,"y":15,"v":38},{"x":9,"y":15,"v":38},{"x":10,"y":15,"v":37},{"x":11,"y":15,"v":33},{"x":12,"y":15,"v":28},{"x":13,"y":15,"v":23},{"x":14,"y":15,"v":18},{"x":15,"y":15,"v":14},{"x":16,"y":15,"v":11},{"x":17,"y":15,"v":9},{"x":18,"y":15,"v":8},{"x":19,"y":15,"v":7},
{"x":0,"y":16,"v":8},{"x":1,"y":16,"v":9},{"x":2,"y":16,"v":11},{"x":3,"y":16,"v":13},{"x":4,"y":16,"v":16},{"x":5,"y":16,"v":19},{"x":6,"y":16,"v":22},{"x":7,"y":16,"v":25},{"x":8,"y":16,"v":27},{"x":9,"y":16,"v":27},{"x":10,"y":16,"v":26},{"x":11,"y":16,"v":23},{"x":12,"y":16,"v":20},{"x":13,"y":16,"v":18},{"x":14,"y":16,"v":15},{"x":15,"y":16,"v":11},{"x":16,"y":16,"v":9},{"x":17,"y":16,"v":8},{"x":18,"y":16,"v":7},{"x":19,"y":16,"v":6},
{"x":0,"y":17,"v":6},{"x":1,"y":17,"v":8},{"x":2,"y":17,"v":9},{"x":3,"y":17,"v":11},{"x":4,"y":17,"v":12},{"x":5,"y":17,"v":13},{"x":6,"y":17,"v":14},{"x":7,"y":17,"v":15},{"x":8,"y":17,"v":16},{"x":9,"y":17,"v":16},{"x":10,"y":17,"v":16},{"x":11,"y":17,"v":15},{"x":12,"y":17,"v":14},{"x":13,"y":17,"v":13},{"x":14,"y":17,"v":12},{"x":15,"y":17,"v":11},{"x":16,"y":17,"v":9},{"x":17,"y":17,"v":7},{"x":18,"y":17,"v":6},{"x":19,"y":17,"v":5},
{"x":0,"y":18,"v":4},{"x":1,"y":18,"v":5},{"x":2,"y":18,"v":7},{"x":3,"y":18,"v":8},{"x":4,"y":18,"v":9},{"x":5,"y":18,"v":10},{"x":6,"y":18,"v":11},{"x":7,"y":18,"v":12},{"x":8,"y":18,"v":12},{"x":9,"y":18,"v":12},{"x":10,"y":18,"v":12},{"x":11,"y":18,"v":12},{"x":12,"y":18,"v":11},{"x":13,"y":18,"v":11},{"x":14,"y":18,"v":10},{"x":15,"y":18,"v":9},{"x":16,"y":18,"v":7},{"x":17,"y":18,"v":6},{"x":18,"y":18,"v":5},{"x":19,"y":18,"v":4},
{"x":0,"y":19,"v":2},{"x":1,"y":19,"v":3},{"x":2,"y":19,"v":4},{"x":3,"y":19,"v":5},{"x":4,"y":19,"v":6},{"x":5,"y":19,"v":7},{"x":6,"y":19,"v":8},{"x":7,"y":19,"v":9},{"x":8,"y":19,"v":10},{"x":9,"y":19,"v":10},{"x":10,"y":19,"v":10},{"x":11,"y":19,"v":9},{"x":12,"y":19,"v":9},{"x":13,"y":19,"v":8},{"x":14,"y":19,"v":8},{"x":15,"y":19,"v":7},{"x":16,"y":19,"v":6},{"x":17,"y":19,"v":5},{"x":18,"y":19,"v":4},{"x":19,"y":19,"v":3}
],
"p4":[
{"x":0,"y":0,"v":1},{"x":1,"y":0,"v":1},{"x":2,"y":0,"v":1},{"x":3,"y":0,"v":2},{"x":4,"y":0,"v":2},{"x":5,"y":0,"v":3},{"x":6,"y":0,"v":3},{"x":7,"y":0,"v":4},{"x":8,"y":0,"v":4},{"x":9,"y":0,"v":4},{"x":10,"y":0,"v":4},{"x":11,"y":0,"v":3},{"x":12,"y":0,"v":3},{"x":13,"y":0,"v":3},{"x":14,"y":0,"v":2},{"x":15,"y":0,"v":2},{"x":16,"y":0,"v":1},{"x":17,"y":0,"v":1},{"x":18,"y":0,"v":0},{"x":19,"y":0,"v":0},
{"x":0,"y":1,"v":1},{"x":1,"y":1,"v":1},{"x":2,"y":1,"v":1},{"x":3,"y":1,"v":2},{"x":4,"y":1,"v":2},{"x":5,"y":1,"v":3},{"x":6,"y":1,"v":4},{"x":7,"y":1,"v":4},{"x":8,"y":1,"v":5},{"x":9,"y":1,"v":5},{"x":10,"y":1,"v":5},{"x":11,"y":1,"v":5},{"x":12,"y":1,"v":5},{"x":13,"y":1,"v":4},{"x":14,"y":1,"v":3},{"x":15,"y":1,"v":2},{"x":16,"y":1,"v":2},{"x":17,"y":1,"v":1},{"x":18,"y":1,"v":1},{"x":19,"y":1,"v":0},
{"x":0,"y":2,"v":1},{"x":1,"y":2,"v":1},{"x":2,"y":2,"v":1},{"x":3,"y":2,"v":2},{"x":4,"y":2,"v":2},{"x":5,"y":2,"v":3},{"x":6,"y":2,"v":4},{"x":7,"y":2,"v":5},{"x":8,"y":2,"v":6},{"x":9,"y":2,"v":7},{"x":10,"y":2,"v":7},{"x":11,"y":2,"v":7},{"x":12,"y":2,"v":7},{"x":13,"y":2,"v":5},{"x":14,"y":2,"v":4},{"x":15,"y":2,"v":3},{"x":16,"y":2,"v":2},{"x":17,"y":2,"v":1},{"x":18,"y":2,"v":1},{"x":19,"y":2,"v":0},
{"x":0,"y":3,"v":1},{"x":1,"y":3,"v":1},{"x":2,"y":3,"v":1},{"x":3,"y":3,"v":2},{"x":4,"y":3,"v":2},{"x":5,"y":3,"v":3},{"x":6,"y":3,"v":4},{"x":7,"y":3,"v":6},{"x":8,"y":3,"v":8},{"x":9,"y":3,"v":10},{"x":10,"y":3,"v":11},{"x":11,"y":3,"v":11},{"x":12,"y":3,"v":10},{"x":13,"y":3,"v":10},{"x":14,"y":3,"v":8},{"x":15,"y":3,"v":5},{"x":16,"y":3,"v":3},{"x":17,"y":3,"v":2},{"x":18,"y":3,"v":1},{"x":19,"y":3,"v":0},
{"x":0,"y":4,"v":1},{"x":1,"y":4,"v":1},{"x":2,"y":4,"v":1},{"x":3,"y":4,"v":2},{"x":4,"y":4,"v":2},{"x":5,"y":4,"v":3},{"x":6,"y":4,"v":5},{"x":7,"y":4,"v":7},{"x":8,"y":4,"v":10},{"x":9,"y":4,"v":12},{"x":10,"y":4,"v":13},{"x":11,"y":4,"v":14},{"x":12,"y":4,"v":13},{"x":13,"y":4,"v":12},{"x":14,"y":4,"v":10},{"x":15,"y":4,"v":8},{"x":16,"y":4,"v":4},{"x":17,"y":4,"v":2},{"x":18,"y":4,"v":1},{"x":19,"y":4,"v":0},
{"x":0,"y":5,"v":1},{"x":1,"y":5,"v":1},{"x":2,"y":5,"v":1},{"x":3,"y":5,"v":2},{"x":4,"y":5,"v":2},{"x":5,"y":5,"v":3},{"x":6,"y":5,"v":5},{"x":7,"y":5,"v":8},{"x":8,"y":5,"v":11},{"x":9,"y":5,"v":14},{"x":10,"y":5,"v":16},{"x":11,"y":5,"v":16},{"x":12,"y":5,"v":15},{"x":13,"y":5,"v":14},{"x":14,"y":5,"v":12},{"x":15,"y":5,"v":10},{"x":16,"y":5,"v":5},{"x":17,"y":5,"v":2},{"x":18,"y":5,"v":1},{"x":19,"y":5,"v":0},
{"x":0,"y":6,"v":0},{"x":1,"y":6,"v":1},{"x":2,"y":6,"v":1},{"x":3,"y":6,"v":2},{"x":4,"y":6,"v":2},{"x":5,"y":6,"v":3},{"x":6,"y":6,"v":6},{"x":7,"y":6,"v":9},{"x":8,"y":6,"v":12},{"x":9,"y":6,"v":16},{"x":10,"y":6,"v":18},{"x":11,"y":6,"v":18},{"x":12,"y":6,"v":17},{"x":13,"y":6,"v":15},{"x":14,"y":6,"v":13},{"x":15,"y":6,"v":11},{"x":16,"y":6,"v":6},{"x":17,"y":6,"v":3},{"x":18,"y":6,"v":1},{"x":19,"y":6,"v":0},
{"x":0,"y":7,"v":0},{"x":1,"y":7,"v":1},{"x":2,"y":7,"v":1},{"x":3,"y":7,"v":2},{"x":4,"y":7,"v":2},{"x":5,"y":7,"v":3},{"x":6,"y":7,"v":6},{"x":7,"y":7,"v":10},{"x":8,"y":7,"v":14},{"x":9,"y":7,"v":18},{"x":10,"y":7,"v":20},{"x":11,"y":7,"v":21},{"x":12,"y":7,"v":20},{"x":13,"y":7,"v":17},{"x":14,"y":7,"v":14},{"x":15,"y":7,"v":12},{"x":16,"y":7,"v":7},{"x":17,"y":7,"v":3},{"x":18,"y":7,"v":1},{"x":19,"y":7,"v":0},
{"x":0,"y":8,"v":0},{"x":1,"y":8,"v":1},{"x":2,"y":8,"v":1},{"x":3,"y":8,"v":2},{"x":4,"y":8,"v":3},{"x":5,"y":8,"v":4},{"x":6,"y":8,"v":7},{"x":7,"y":8,"v":11},{"x":8,"y":8,"v":16},{"x":9,"y":8,"v":22},{"x":10,"y":8,"v":26},{"x":11,"y":8,"v":26},{"x":12,"y":8,"v":23},{"x":13,"y":8,"v":19},{"x":14,"y":8,"v":16},{"x":15,"y":8,"v":12},{"x":16,"y":8,"v":7},{"x":17,"y":8,"v":3},{"x":18,"y":8,"v":1},{"x":19,"y":8,"v":0},
{"x":0,"y":9,"v":0},{"x":1,"y":9,"v":1},{"x":2,"y":9,"v":1},{"x":3,"y":9,"v":2},{"x":4,"y":9,"v":3},{"x":5,"y":9,"v":4},{"x":6,"y":9,"v":7},{"x":7,"y":9,"v":13},{"x":8,"y":9,"v":21},{"x":9,"y":9,"v":31},{"x":10,"y":9,"v":35},{"x":11,"y":9,"v":35},{"x":12,"y":9,"v":33},{"x":13,"y":9,"v":24},{"x":14,"y":9,"v":19},{"x":15,"y":9,"v":12},{"x":16,"y":9,"v":8},{"x":17,"y":9,"v":4},{"x":18,"y":9,"v":2},{"x":19,"y":9,"v":0},
{"x":0,"y":10,"v":0},{"x":1,"y":10,"v":1},{"x":2,"y":10,"v":1},{"x":3,"y":10,"v":2},{"x":4,"y":10,"v":3},{"x":5,"y":10,"v":4},{"x":6,"y":10,"v":8},{"x":7,"y":10,"v":15},{"x":8,"y":10,"v":28},{"x":9,"y":10,"v":36},{"x":10,"y":10,"v":40},{"x":11,"y":10,"v":41},{"x":12,"y":10,"v":38},{"x":13,"y":10,"v":33},{"x":14,"y":10,"v":22},{"x":15,"y":10,"v":15},{"x":16,"y":10,"v":10},{"x":17,"y":10,"v":5},{"x":18,"y":10,"v":3},{"x":19,"y":10,"v":0},
{"x":0,"y":11,"v":0},{"x":1,"y":11,"v":1},{"x":2,"y":11,"v":1},{"x":3,"y":11,"v":2},{"x":4,"y":11,"v":3},{"x":5,"y":11,"v":4},{"x":6,"y":11,"v":9},{"x":7,"y":11,"v":17},{"x":8,"y":11,"v":34},{"x":9,"y":11,"v":39},{"x":10,"y":11,"v":47},{"x":11,"y":11,"v":48},{"x":12,"y":11,"v":44},{"x":13,"y":11,"v":37},{"x":14,"y":11,"v":26},{"x":15,"y":11,"v":17},{"x":16,"y":11,"v":11},{"x":17,"y":11,"v":6},{"x":18,"y":11,"v":3},{"x":19,"y":11,"v":0},
{"x":0,"y":12,"v":0},{"x":1,"y":12,"v":1},{"x":2,"y":12,"v":1},{"x":3,"y":12,"v":2},{"x":4,"y":12,"v":3},{"x":5,"y":12,"v":5},{"x":6,"y":12,"v":9},{"x":7,"y":12,"v":18},{"x":8,"y":12,"v":35},{"x":9,"y":12,"v":40},{"x":10,"y":12,"v":49},{"x":11,"y":12,"v":50},{"x":12,"y":12,"v":45},{"x":13,"y":12,"v":37},{"x":14,"y":12,"v":27},{"x":15,"y":12,"v":18},{"x":16,"y":12,"v":12},{"x":17,"y":12,"v":6},{"x":18,"y":12,"v":3},{"x":19,"y":12,"v":0},
{"x":0,"y":13,"v":0},{"x":1,"y":13,"v":1},{"x":2,"y":13,"v":1},{"x":3,"y":13,"v":2},{"x":4,"y":13,"v":3},{"x":5,"y":13,"v":4},{"x":6,"y":13,"v":8},{"x":7,"y":13,"v":17},{"x":8,"y":13,"v":33},{"x":9,"y":13,"v":39},{"x":10,"y":13,"v":45},{"x":11,"y":13,"v":46},{"x":12,"y":13,"v":42},{"x":13,"y":13,"v":36},{"x":14,"y":13,"v":25},{"x":15,"y":13,"v":16},{"x":16,"y":13,"v":10},{"x":17,"y":13,"v":6},{"x":18,"y":13,"v":3},{"x":19,"y":13,"v":0},
{"x":0,"y":14,"v":0},{"x":1,"y":14,"v":1},{"x":2,"y":14,"v":1},{"x":3,"y":14,"v":2},{"x":4,"y":14,"v":3},{"x":5,"y":14,"v":4},{"x":6,"y":14,"v":7},{"x":7,"y":14,"v":14},{"x":8,"y":14,"v":26},{"x":9,"y":14,"v":37},{"x":10,"y":14,"v":39},{"x":11,"y":14,"v":39},{"x":12,"y":14,"v":38},{"x":13,"y":14,"v":30},{"x":14,"y":14,"v":22},{"x":15,"y":14,"v":15},{"x":16,"y":14,"v":10},{"x":17,"y":14,"v":5},{"x":18,"y":14,"v":3},{"x":19,"y":14,"v":0},
{"x":0,"y":15,"v":0},{"x":1,"y":15,"v":1},{"x":2,"y":15,"v":1},{"x":3,"y":15,"v":2},{"x":4,"y":15,"v":2},{"x":5,"y":15,"v":3},{"x":6,"y":15,"v":6},{"x":7,"y":15,"v":11},{"x":8,"y":15,"v":19},{"x":9,"y":15,"v":31},{"x":10,"y":15,"v":35},{"x":11,"y":15,"v":35},{"x":12,"y":15,"v":31},{"x":13,"y":15,"v":23},{"x":14,"y":15,"v":18},{"x":15,"y":15,"v":12},{"x":16,"y":15,"v":8},{"x":17,"y":15,"v":4},{"x":18,"y":15,"v":2},{"x":19,"y":15,"v":0},
{"x":0,"y":16,"v":0},{"x":1,"y":16,"v":1},{"x":2,"y":16,"v":1},{"x":3,"y":16,"v":1},{"x":4,"y":16,"v":2},{"x":5,"y":16,"v":3},{"x":6,"y":16,"v":5},{"x":7,"y":16,"v":8},{"x":8,"y":16,"v":12},{"x":9,"y":16,"v":16},{"x":10,"y":16,"v":20},{"x":11,"y":16,"v":21},{"x":12,"y":16,"v":18},{"x":13,"y":16,"v":14},{"x":14,"y":16,"v":12},{"x":15,"y":16,"v":9},{"x":16,"y":16,"v":6},{"x":17,"y":16,"v":3},{"x":18,"y":16,"v":2},{"x":19,"y":16,"v":0},
{"x":0,"y":17,"v":0},{"x":1,"y":17,"v":1},{"x":2,"y":17,"v":1},{"x":3,"y":17,"v":1},{"x":4,"y":17,"v":2},{"x":5,"y":17,"v":2},{"x":6,"y":17,"v":3},{"x":7,"y":17,"v":5},{"x":8,"y":17,"v":8},{"x":9,"y":17,"v":10},{"x":10,"y":17,"v":12},{"x":11,"y":17,"v":13},{"x":12,"y":17,"v":12},{"x":13,"y":17,"v":10},{"x":14,"y":17,"v":8},{"x":15,"y":17,"v":6},{"x":16,"y":17,"v":4},{"x":17,"y":17,"v":2},{"x":18,"y":17,"v":1},{"x":19,"y":17,"v":0},
{"x":0,"y":18,"v":0},{"x":1,"y":18,"v":0},{"x":2,"y":18,"v":1},{"x":3,"y":18,"v":1},{"x":4,"y":18,"v":2},{"x":5,"y":18,"v":2},{"x":6,"y":18,"v":3},{"x":7,"y":18,"v":4},{"x":8,"y":18,"v":6},{"x":9,"y":18,"v":7},{"x":10,"y":18,"v":9},{"x":11,"y":18,"v":10},{"x":12,"y":18,"v":10},{"x":13,"y":18,"v":8},{"x":14,"y":18,"v":6},{"x":15,"y":18,"v":3},{"x":16,"y":18,"v":2},{"x":17,"y":18,"v":1},{"x":18,"y":18,"v":0},{"x":19,"y":18,"v":0},
{"x":0,"y":19,"v":0},{"x":1,"y":19,"v":0},{"x":2,"y":19,"v":1},{"x":3,"y":19,"v":1},{"x":4,"y":19,"v":1},{"x":5,"y":19,"v":2},{"x":6,"y":19,"v":3},{"x":7,"y":19,"v":3},{"x":8,"y":19,"v":4},{"x":9,"y":19,"v":5},{"x":10,"y":19,"v":7},{"x":11,"y":19,"v":8},{"x":12,"y":19,"v":8},{"x":13,"y":19,"v":6},{"x":14,"y":19,"v":4},{"x":15,"y":19,"v":3},{"x":16,"y":19,"v":2},{"x":17,"y":19,"v":1},{"x":18,"y":19,"v":0},{"x":19,"y":19,"v":0}
],
"disc":[{"x":9.65,"y":9.6}],
"side":[{"x":0.16,"y":9.5,"t":"N"},{"x":18.95,"y":9.5,"t":"T"}],
"frame":[{"x":-0.5,"x2":19.5,"y":-0.5,"y2":19.5}],
"panelA":[{"x":-5.07,"y":-3.4,"t":"A"}],
"headC":[{"x":9.5,"y":-1.255,"t":"Correct predictions"}],
"headI":[{"x":9.5,"y":-1.255,"t":"Incorrect predictions"}],
"grid":[{"g":0.1},{"g":0.2},{"g":0.3},{"g":0.4},{"g":0.5},{"g":0.6}],
"spacer":[],
"bars":[
{"sector":"Superotemporal","group":"Normal correct (n = 313)","mean":0.175,"lo":0.083,"hi":0.268,"label":"0.18"},
{"sector":"Superotemporal","group":"Normal incorrect (n = 27)","mean":0.096,"lo":0,"hi":0.234,"label":"0.10"},
{"sector":"Superotemporal","group":"Glaucoma correct (n = 46)","mean":0.097,"lo":0.015,"hi":0.18,"label":"0.10"},
{"sector":"Superotemporal","group":"Glaucoma incorrect (n = 34)","mean":0.212,"lo":0.056,"hi":0.367,"label":"0.21"},
{"sector":"Superonasal","group":"Normal correct (n = 313)","mean":0.13,"lo":0.035,"hi":0.224,"label":"0.13"},
{"sector":"Superonasal","group":"Normal incorrect (n = 27)","mean":0.202,"lo":0,"hi":0.435,"label":"0.20"},
{"sector":"Superonasal","group":"Glaucoma correct (n = 46)","mean":0.187,"lo":0,"hi":0.388,"label":"0.19"},
{"sector":"Superonasal","group":"Glaucoma incorrect (n = 34)","mean":0.163,"lo":0.035,"hi":0.29,"label":"0.16"},
{"sector":"Inferotemporal","group":"Normal correct (n = 313)","mean":0.411,"lo":0.216,"hi":0.606,"label":"0.41"},
{"sector":"Inferotemporal","group":"Normal incorrect (n = 27)","mean":0.308,"lo":0.055,"hi":0.56,"label":"0.31"},
{"sector":"Inferotemporal","group":"Glaucoma correct (n = 46)","mean":0.363,"lo":0.097,"hi":0.627,"label":"0.36"},
{"sector":"Inferotemporal","group":"Glaucoma incorrect (n = 34)","mean":0.378,"lo":0.173,"hi":0.583,"label":"0.38"},
{"sector":"Inferonasal","group":"Normal correct (n = 313)","mean":0.282,"lo":0.1,"hi":0.464,"label":"0.28"},
{"sector":"Inferonasal","group":"Normal incorrect (n = 27)","mean":0.393,"lo":0.146,"hi":0.64,"label":"0.39"},
{"sector":"Inferonasal","group":"Glaucoma correct (n = 46)","mean":0.352,"lo":0.127,"hi":0.577,"label":"0.35"},
{"sector":"Inferonasal","group":"Glaucoma incorrect (n = 34)","mean":0.245,"lo":0.042,"hi":0.449,"label":"0.25"}
]},
"vconcat":[
{"spacing":10,"vconcat":[
{"spacing":58.5,"hconcat":[
{"width":501,"height":501,
"layer":[
{"data":{"name":"p1"},"encoding":{
"x":{"field":"x","type":"quantitative","scale":{"domain":[-0.5,19.5],"nice":false,"zero":false},"axis":{"title":"n = 313\u00a0\u00a0\u00a0·\u00a0\u00a0\u00a0disc-frac = 0.38","labels":false,"ticks":false,"domain":false,"grid":false,"titleFontWeight":"normal","titleFontSize":18.5,"titleColor":"#222","titlePadding":30}},
"y":{"field":"y","type":"quantitative","scale":{"domain":[19.5,-0.5],"nice":false,"zero":false},"axis":{"title":"Normal","labels":false,"ticks":false,"domain":false,"grid":false,"titleFontWeight":"bold","titleFontSize":25,"titleColor":"#3a6fb8","titlePadding":64}},
"color":{"field":"v","type":"quantitative","legend":null,"scale":{"domain":[0,11,12.5,34,37.5,50,64,100],"range":["#00007f","#0000ff","#0000ff","#00dbff","#14ffe2","#7bff7b","#f0ff08","#800000"]}}},
"layer":[
{"mark":{"type":"rect","width":25.5,"height":25.5,"clip":true}},
{"mark":{"type":"rect","width":25.5,"height":25.5,"clip":true,"xOffset":-8.4,"yOffset":-8.4}},
{"mark":{"type":"rect","width":25.5,"height":25.5,"clip":true,"xOffset":0,"yOffset":-8.4,"opacity":0.5}},
{"mark":{"type":"rect","width":25.5,"height":25.5,"clip":true,"xOffset":8.4,"yOffset":-8.4,"opacity":0.3333}},
{"mark":{"type":"rect","width":25.5,"height":25.5,"clip":true,"xOffset":-8.4,"yOffset":0,"opacity":0.25}},
{"mark":{"type":"rect","width":25.5,"height":25.5,"clip":true,"xOffset":0,"yOffset":0,"opacity":0.2}},
{"mark":{"type":"rect","width":25.5,"height":25.5,"clip":true,"xOffset":8.4,"yOffset":0,"opacity":0.1667}},
{"mark":{"type":"rect","width":25.5,"height":25.5,"clip":true,"xOffset":-8.4,"yOffset":8.4,"opacity":0.1429}},
{"mark":{"type":"rect","width":25.5,"height":25.5,"clip":true,"xOffset":0,"yOffset":8.4,"opacity":0.125}},
{"mark":{"type":"rect","width":25.5,"height":25.5,"clip":true,"xOffset":8.4,"yOffset":8.4,"opacity":0.1111}}
]},
{"data":{"name":"frame"},"mark":{"type":"rect","filled":false,"stroke":"#111","strokeWidth":2},"encoding":{"x":{"field":"x","type":"quantitative"},"x2":{"field":"x2"},"y":{"field":"y","type":"quantitative"},"y2":{"field":"y2"}}},
{"data":{"name":"disc"},"mark":{"type":"point","size":40000,"filled":false,"stroke":"white","strokeWidth":3.5,"strokeDash":[12,7.5],"opacity":1},"encoding":{"x":{"field":"x","type":"quantitative"},"y":{"field":"y","type":"quantitative"}}},
{"data":{"name":"side"},"mark":{"type":"rect","width":26,"height":29,"fill":"black","opacity":0.6},"encoding":{"x":{"field":"x","type":"quantitative"},"y":{"field":"y","type":"quantitative"}}},
{"data":{"name":"side"},"mark":{"type":"text","fill":"white","fontWeight":"bold","fontSize":20},"encoding":{"x":{"field":"x","type":"quantitative"},"y":{"field":"y","type":"quantitative"},"text":{"field":"t"}}},
{"data":{"name":"headC"},"mark":{"type":"text","fill":"#222","fontWeight":"bold","fontSize":22.7,"baseline":"alphabetic"},"encoding":{"x":{"field":"x","type":"quantitative"},"y":{"field":"y","type":"quantitative"},"text":{"field":"t"}}},
{"data":{"name":"panelA"},"mark":{"type":"text","fill":"black","fontWeight":"bold","fontSize":58,"align":"left","baseline":"alphabetic"},"encoding":{"x":{"field":"x","type":"quantitative"},"y":{"field":"y","type":"quantitative"},"text":{"field":"t"}}}
]},
{"width":501,"height":501,
"layer":[
{"data":{"name":"p2"},"encoding":{
"x":{"field":"x","type":"quantitative","scale":{"domain":[-0.5,19.5],"nice":false,"zero":false},"axis":{"title":"n = 27\u00a0\u00a0\u00a0·\u00a0\u00a0\u00a0disc-frac = 0.19","labels":false,"ticks":false,"domain":false,"grid":false,"titleFontWeight":"normal","titleFontSize":18.5,"titleColor":"#222","titlePadding":30}},
"y":{"field":"y","type":"quantitative","scale":{"domain":[19.5,-0.5],"nice":false,"zero":false},"axis":null},
"color":{"field":"v","type":"quantitative","legend":null,"scale":{"domain":[0,11,12.5,34,37.5,50,64,100],"range":["#00007f","#0000ff","#0000ff","#00dbff","#14ffe2","#7bff7b","#f0ff08","#800000"]}}},
"layer":[
{"mark":{"type":"rect","width":25.5,"height":25.5,"clip":true}},
{"mark":{"type":"rect","width":25.5,"height":25.5,"clip":true,"xOffset":-8.4,"yOffset":-8.4}},
{"mark":{"type":"rect","width":25.5,"height":25.5,"clip":true,"xOffset":0,"yOffset":-8.4,"opacity":0.5}},
{"mark":{"type":"rect","width":25.5,"height":25.5,"clip":true,"xOffset":8.4,"yOffset":-8.4,"opacity":0.3333}},
{"mark":{"type":"rect","width":25.5,"height":25.5,"clip":true,"xOffset":-8.4,"yOffset":0,"opacity":0.25}},
{"mark":{"type":"rect","width":25.5,"height":25.5,"clip":true,"xOffset":0,"yOffset":0,"opacity":0.2}},
{"mark":{"type":"rect","width":25.5,"height":25.5,"clip":true,"xOffset":8.4,"yOffset":0,"opacity":0.1667}},
{"mark":{"type":"rect","width":25.5,"height":25.5,"clip":true,"xOffset":-8.4,"yOffset":8.4,"opacity":0.1429}},
{"mark":{"type":"rect","width":25.5,"height":25.5,"clip":true,"xOffset":0,"yOffset":8.4,"opacity":0.125}},
{"mark":{"type":"rect","width":25.5,"height":25.5,"clip":true,"xOffset":8.4,"yOffset":8.4,"opacity":0.1111}}
]},
{"data":{"name":"frame"},"mark":{"type":"rect","filled":false,"stroke":"#111","strokeWidth":2},"encoding":{"x":{"field":"x","type":"quantitative"},"x2":{"field":"x2"},"y":{"field":"y","type":"quantitative","axis":null},"y2":{"field":"y2"}}},
{"data":{"name":"disc"},"mark":{"type":"point","size":40000,"filled":false,"stroke":"white","strokeWidth":3.5,"strokeDash":[12,7.5],"opacity":1},"encoding":{"x":{"field":"x","type":"quantitative"},"y":{"field":"y","type":"quantitative","axis":null}}},
{"data":{"name":"side"},"mark":{"type":"rect","width":26,"height":29,"fill":"black","opacity":0.6},"encoding":{"x":{"field":"x","type":"quantitative"},"y":{"field":"y","type":"quantitative","axis":null}}},
{"data":{"name":"side"},"mark":{"type":"text","fill":"white","fontWeight":"bold","fontSize":20},"encoding":{"x":{"field":"x","type":"quantitative"},"y":{"field":"y","type":"quantitative","axis":null},"text":{"field":"t"}}},
{"data":{"name":"headI"},"mark":{"type":"text","fill":"#222","fontWeight":"bold","fontSize":22.7,"baseline":"alphabetic"},"encoding":{"x":{"field":"x","type":"quantitative"},"y":{"field":"y","type":"quantitative","axis":null},"text":{"field":"t"}}}
]}
]},
{"spacing":58.5,"hconcat":[
{"width":501,"height":501,
"layer":[
{"data":{"name":"p3"},"encoding":{
"x":{"field":"x","type":"quantitative","scale":{"domain":[-0.5,19.5],"nice":false,"zero":false},"axis":{"title":"n = 46\u00a0\u00a0\u00a0·\u00a0\u00a0\u00a0disc-frac = 0.23","labels":false,"ticks":false,"domain":false,"grid":false,"titleFontWeight":"normal","titleFontSize":18.5,"titleColor":"#222","titlePadding":30}},
"y":{"field":"y","type":"quantitative","scale":{"domain":[19.5,-0.5],"nice":false,"zero":false},"axis":{"title":"Glaucoma","labels":false,"ticks":false,"domain":false,"grid":false,"titleFontWeight":"bold","titleFontSize":25,"titleColor":"#c84b52","titlePadding":64}},
"color":{"field":"v","type":"quantitative","legend":null,"scale":{"domain":[0,11,12.5,34,37.5,50,64,100],"range":["#00007f","#0000ff","#0000ff","#00dbff","#14ffe2","#7bff7b","#f0ff08","#800000"]}}},
"layer":[
{"mark":{"type":"rect","width":25.5,"height":25.5,"clip":true}},
{"mark":{"type":"rect","width":25.5,"height":25.5,"clip":true,"xOffset":-8.4,"yOffset":-8.4}},
{"mark":{"type":"rect","width":25.5,"height":25.5,"clip":true,"xOffset":0,"yOffset":-8.4,"opacity":0.5}},
{"mark":{"type":"rect","width":25.5,"height":25.5,"clip":true,"xOffset":8.4,"yOffset":-8.4,"opacity":0.3333}},
{"mark":{"type":"rect","width":25.5,"height":25.5,"clip":true,"xOffset":-8.4,"yOffset":0,"opacity":0.25}},
{"mark":{"type":"rect","width":25.5,"height":25.5,"clip":true,"xOffset":0,"yOffset":0,"opacity":0.2}},
{"mark":{"type":"rect","width":25.5,"height":25.5,"clip":true,"xOffset":8.4,"yOffset":0,"opacity":0.1667}},
{"mark":{"type":"rect","width":25.5,"height":25.5,"clip":true,"xOffset":-8.4,"yOffset":8.4,"opacity":0.1429}},
{"mark":{"type":"rect","width":25.5,"height":25.5,"clip":true,"xOffset":0,"yOffset":8.4,"opacity":0.125}},
{"mark":{"type":"rect","width":25.5,"height":25.5,"clip":true,"xOffset":8.4,"yOffset":8.4,"opacity":0.1111}}
]},
{"data":{"name":"frame"},"mark":{"type":"rect","filled":false,"stroke":"#111","strokeWidth":2},"encoding":{"x":{"field":"x","type":"quantitative"},"x2":{"field":"x2"},"y":{"field":"y","type":"quantitative"},"y2":{"field":"y2"}}},
{"data":{"name":"disc"},"mark":{"type":"point","size":40000,"filled":false,"stroke":"white","strokeWidth":3.5,"strokeDash":[12,7.5],"opacity":1},"encoding":{"x":{"field":"x","type":"quantitative"},"y":{"field":"y","type":"quantitative"}}},
{"data":{"name":"side"},"mark":{"type":"rect","width":26,"height":29,"fill":"black","opacity":0.6},"encoding":{"x":{"field":"x","type":"quantitative"},"y":{"field":"y","type":"quantitative"}}},
{"data":{"name":"side"},"mark":{"type":"text","fill":"white","fontWeight":"bold","fontSize":20},"encoding":{"x":{"field":"x","type":"quantitative"},"y":{"field":"y","type":"quantitative"},"text":{"field":"t"}}}
]},
{"width":501,"height":501,
"layer":[
{"data":{"name":"p4"},"encoding":{
"x":{"field":"x","type":"quantitative","scale":{"domain":[-0.5,19.5],"nice":false,"zero":false},"axis":{"title":"n = 34\u00a0\u00a0\u00a0·\u00a0\u00a0\u00a0disc-frac = 0.35","labels":false,"ticks":false,"domain":false,"grid":false,"titleFontWeight":"normal","titleFontSize":18.5,"titleColor":"#222","titlePadding":30}},
"y":{"field":"y","type":"quantitative","scale":{"domain":[19.5,-0.5],"nice":false,"zero":false},"axis":null},
"color":{"field":"v","type":"quantitative","legend":null,"scale":{"domain":[0,11,12.5,34,37.5,50,64,100],"range":["#00007f","#0000ff","#0000ff","#00dbff","#14ffe2","#7bff7b","#f0ff08","#800000"]}}},
"layer":[
{"mark":{"type":"rect","width":25.5,"height":25.5,"clip":true}},
{"mark":{"type":"rect","width":25.5,"height":25.5,"clip":true,"xOffset":-8.4,"yOffset":-8.4}},
{"mark":{"type":"rect","width":25.5,"height":25.5,"clip":true,"xOffset":0,"yOffset":-8.4,"opacity":0.5}},
{"mark":{"type":"rect","width":25.5,"height":25.5,"clip":true,"xOffset":8.4,"yOffset":-8.4,"opacity":0.3333}},
{"mark":{"type":"rect","width":25.5,"height":25.5,"clip":true,"xOffset":-8.4,"yOffset":0,"opacity":0.25}},
{"mark":{"type":"rect","width":25.5,"height":25.5,"clip":true,"xOffset":0,"yOffset":0,"opacity":0.2}},
{"mark":{"type":"rect","width":25.5,"height":25.5,"clip":true,"xOffset":8.4,"yOffset":0,"opacity":0.1667}},
{"mark":{"type":"rect","width":25.5,"height":25.5,"clip":true,"xOffset":-8.4,"yOffset":8.4,"opacity":0.1429}},
{"mark":{"type":"rect","width":25.5,"height":25.5,"clip":true,"xOffset":0,"yOffset":8.4,"opacity":0.125}},
{"mark":{"type":"rect","width":25.5,"height":25.5,"clip":true,"xOffset":8.4,"yOffset":8.4,"opacity":0.1111}}
]},
{"data":{"name":"frame"},"mark":{"type":"rect","filled":false,"stroke":"#111","strokeWidth":2},"encoding":{"x":{"field":"x","type":"quantitative"},"x2":{"field":"x2"},"y":{"field":"y","type":"quantitative","axis":null},"y2":{"field":"y2"}}},
{"data":{"name":"disc"},"mark":{"type":"point","size":40000,"filled":false,"stroke":"white","strokeWidth":3.5,"strokeDash":[12,7.5],"opacity":1},"encoding":{"x":{"field":"x","type":"quantitative"},"y":{"field":"y","type":"quantitative","axis":null}}},
{"data":{"name":"side"},"mark":{"type":"rect","width":26,"height":29,"fill":"black","opacity":0.6},"encoding":{"x":{"field":"x","type":"quantitative"},"y":{"field":"y","type":"quantitative","axis":null}}},
{"data":{"name":"side"},"mark":{"type":"text","fill":"white","fontWeight":"bold","fontSize":20},"encoding":{"x":{"field":"x","type":"quantitative"},"y":{"field":"y","type":"quantitative","axis":null},"text":{"field":"t"}}}
]}
]}
]},
{"spacing":0,"bounds":"flush","hconcat":[
{"width":83,"height":529,"view":{"stroke":null},"data":{"name":"spacer"},"mark":"point","encoding":{}},
{"width":810,"height":529,"view":{"stroke":"#333","strokeWidth":1.5},
"title":{"text":"B","anchor":"start","frame":"bounds","fontSize":58,"fontWeight":"bold","color":"black","dx":-138,"offset":10},
"data":{"name":"bars"},
"encoding":{
"x":{"field":"sector","type":"nominal","scale":{"domain":["Superotemporal","Superonasal","Inferotemporal","Inferonasal"],"paddingInner":0.278,"paddingOuter":0.183},"axis":{"title":null,"labelAngle":0,"labelFontSize":18,"labelPadding":5,"labelColor":"#111","tickColor":"#111","tickSize":6,"domainColor":"#333","domainWidth":1.5,"grid":false}}
},
"layer":[
{"data":{"name":"grid"},"mark":{"type":"rule","stroke":"#e4e4e4","strokeDash":[6,4],"strokeWidth":1},"encoding":{"x":null,"y":{"field":"g","type":"quantitative"}}},
{"data":{"values":[{"ref":0.25}]},"mark":{"type":"rule","stroke":"#aaa","strokeDash":[1,2],"strokeWidth":1},"encoding":{"x":null,"y":{"field":"ref","type":"quantitative"}}},
{"mark":{"type":"bar","stroke":"#222","strokeWidth":1.2,"strokeOpacity":0.85},"encoding":{
"xOffset":{"field":"group","type":"nominal","scale":{"domain":["Normal correct (n = 313)","Normal incorrect (n = 27)","Glaucoma correct (n = 46)","Glaucoma incorrect (n = 34)"]}},
"y":{"field":"mean","type":"quantitative","scale":{"domain":[0,0.7],"nice":false},"axis":{"title":"Mean fraction of full-image Grad-CAM intensity","titleFontWeight":"normal","titleFontSize":18,"titleColor":"#111","labelFontSize":16.5,"labelColor":"#111","values":[0,0.1,0.2,0.3,0.4,0.5,0.6,0.7],"format":".1f","tickColor":"#111","tickSize":6,"domainColor":"#333","domainWidth":1.5,"grid":false,"titlePadding":10}},
"color":{"field":"group","type":"nominal","scale":{"domain":["Normal correct (n = 313)","Normal incorrect (n = 27)","Glaucoma correct (n = 46)","Glaucoma incorrect (n = 34)"],"range":["#4a78bb","#94b4dc","#c85a60","#e9a9ab"]},
"legend":{"title":null,"orient":"none","legendX":-92.5,"legendY":590,"direction":"horizontal","columns":4,"columnPadding":30,"labelFontSize":16.3,"labelOffset":29,"labelColor":"#111","labelLimit":400,"strokeColor":"#ccc","cornerRadius":3,"padding":5,"symbolType":"M-1,-0.82H3V0.82H-1Z","symbolSize":289,"symbolStrokeColor":"#222","symbolStrokeWidth":1.2,"symbolOpacity":1}}}},
{"mark":{"type":"text","baseline":"bottom","dy":-2,"fontSize":14,"fill":"#333"},"encoding":{"xOffset":{"field":"group","type":"nominal"},"y":{"field":"mean","type":"quantitative"},"text":{"field":"label"}}},
{"mark":{"type":"rule","stroke":"#333","strokeWidth":1.4,"opacity":0.75},"encoding":{"xOffset":{"field":"group","type":"nominal"},"y":{"field":"lo","type":"quantitative"},"y2":{"field":"hi"}}},
{"mark":{"type":"tick","orient":"horizontal","size":9,"thickness":1.2,"color":"#333","opacity":0.85},"encoding":{"xOffset":{"field":"group","type":"nominal"},"y":{"field":"lo","type":"quantitative"}}},
{"mark":{"type":"tick","orient":"horizontal","size":9,"thickness":1.2,"color":"#333","opacity":0.85},"encoding":{"xOffset":{"field":"group","type":"nominal"},"y":{"field":"hi","type":"quantitative"}}}
]}
]}
]}
